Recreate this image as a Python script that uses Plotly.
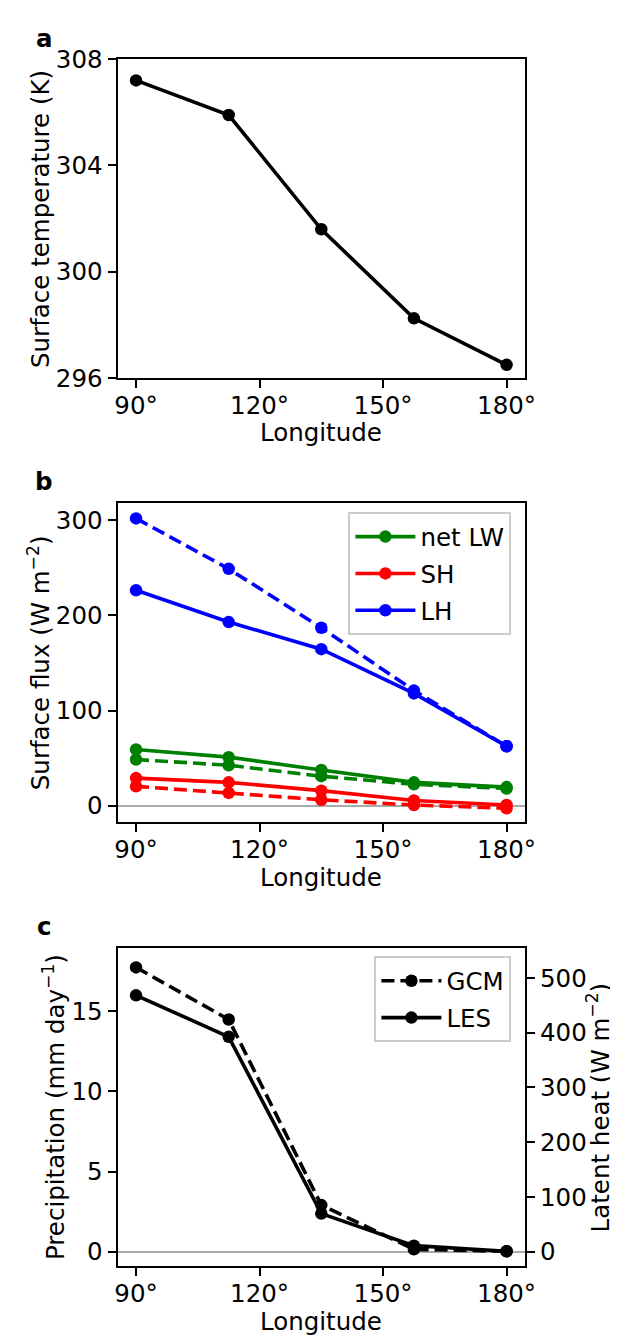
import plotly.graph_objects as go

# ---------------- data ----------------
lon = [90, 112.5, 135, 157.5, 180]
xtick_vals = [90, 120, 150, 180]
xtick_text = ["90°", "120°", "150°", "180°"]

ts = [307.2, 305.9, 301.6, 298.25, 296.5]
ts_ticks = [296, 300, 304, 308]

lw_les = [59, 51, 37.5, 24.5, 19.5]
lw_gcm = [48.5, 42.5, 31, 22.5, 18]
sh_les = [29, 24.5, 15.8, 5.5, 0.7]
sh_gcm = [20.3, 13.4, 6.2, 0.7, -2.7]
lh_les = [226.5, 193, 164.5, 118, 62.5]
lh_gcm = [302, 249, 187, 121, 62.5]
flux_ticks = [0, 100, 200, 300]

pr_gcm = [17.74, 14.49, 2.91, 0.15, 0.03]
pr_les = [16.0, 13.41, 2.38, 0.38, 0.03]
pr_ticks = [0, 5, 10, 15]
lh_ticks = [0, 100, 200, 300, 400, 500]
LV_FACTOR = 29.27   # W m-2 per mm day-1 (right axis scaling)

W, H = 618, 1341
FONT = "DejaVu Sans"
FS = 24.5
LWID = 3.6
MSZ = 12.5
DASH = "13px,6px"

def px(x):
    return x / W

def py(y):
    return 1 - y / H

xl, xr = 109, 526
panels = [(38, 364), (492, 818), (946, 1272)]

fig = go.Figure()

# panel a
fig.add_trace(go.Scatter(x=lon, y=ts, mode="lines+markers", xaxis="x", yaxis="y",
                         line=dict(color="black", width=LWID),
                         marker=dict(color="black", size=MSZ), showlegend=False))

# panel b
cols = {"net LW": "#008000", "SH": "#ff0000", "LH": "#0000ff"}
series_b = [("net LW", lw_les, lw_gcm), ("SH", sh_les, sh_gcm), ("LH", lh_les, lh_gcm)]
for name, les, gcm in series_b:
    c = cols[name]
    fig.add_trace(go.Scatter(x=lon, y=gcm, mode="lines+markers", xaxis="x2", yaxis="y2",
                             line=dict(color=c, width=LWID, dash=DASH),
                             marker=dict(color=c, size=MSZ), showlegend=False))
for name, les, gcm in series_b:
    c = cols[name]
    fig.add_trace(go.Scatter(x=lon, y=les, mode="lines+markers", xaxis="x2", yaxis="y2",
                             name=name, legendgroup=name, legend="legend",
                             line=dict(color=c, width=LWID),
                             marker=dict(color=c, size=MSZ)))

# panel c
fig.add_trace(go.Scatter(x=lon, y=pr_gcm, mode="lines+markers", xaxis="x3", yaxis="y3",
                         name="GCM", legendgroup="GCM", legend="legend2",
                         line=dict(color="black", width=LWID, dash=DASH),
                         marker=dict(color="black", size=MSZ)))
fig.add_trace(go.Scatter(x=lon, y=pr_les, mode="lines+markers", xaxis="x3", yaxis="y3",
                         name="LES", legendgroup="LES", legend="legend2",
                         line=dict(color="black", width=LWID),
                         marker=dict(color="black", size=MSZ)))
# invisible companion on the right (latent heat) axis so that it is drawn
fig.add_trace(go.Scatter(x=lon, y=[p * LV_FACTOR for p in pr_les], mode="lines",
                         xaxis="x3", yaxis="y4", opacity=0, hoverinfo="skip",
                         line=dict(width=0), showlegend=False))

axis_common = dict(showline=True, linecolor="black", linewidth=2, mirror=True,
                   ticks="outside", ticklen=8, tickwidth=2, tickcolor="black",
                   showgrid=False, zeroline=False,
                   tickfont=dict(family=FONT, size=FS, color="black"))

xdom = [px(xl), px(xr)]
lay = dict(width=W, height=H, margin=dict(l=0, r=0, t=0, b=0),
           paper_bgcolor="white", plot_bgcolor="white",
           font=dict(family=FONT, size=FS, color="black"))

yranges = [[296, 308], [-17.5, 317.8], [-0.92, 18.98]]
ytv = [ts_ticks, flux_ticks, pr_ticks]
for i, (top, bot) in enumerate(panels):
    s = "" if i == 0 else str(i + 1)
    ydom = [py(bot), py(top)]
    lay["xaxis" + s] = dict(axis_common, domain=xdom, anchor="y" + s,
                            range=[85.5, 184.5], tickvals=xtick_vals,
                            ticktext=xtick_text, ticklabelstandoff=-4)
    yax = dict(axis_common, domain=ydom, anchor="x" + s,
               range=yranges[i], tickvals=ytv[i])
    if i > 0:
        yax.update(zeroline=True, zerolinecolor="#aaaaaa", zerolinewidth=2)
    lay["yaxis" + s] = yax

lay["yaxis4"] = dict(axis_common, overlaying="y3", side="right", anchor="x3",
                     range=[-0.92 * LV_FACTOR, 18.98 * LV_FACTOR], tickvals=lh_ticks,
                     mirror=False)

leg_common = dict(xanchor="right", yanchor="top",
                  bgcolor="white", bordercolor="#cccccc", borderwidth=2,
                  font=dict(family=FONT, size=FS, color="black"),
                  itemwidth=60, tracegroupgap=2)
lay["legend"] = dict(leg_common, x=px(512), y=py(501))
lay["legend2"] = dict(leg_common, x=px(512), y=py(955))

fig.update_layout(**lay)

ann = []
def add_text(text, x, y, angle=0, bold=False):
    ann.append(dict(text=("<b>%s</b>" % text) if bold else text,
                    x=px(x), y=py(y), xref="paper", yref="paper",
                    xanchor="center", yanchor="middle", textangle=angle,
                    showarrow=False, font=dict(family=FONT, size=FS, color="black")))

add_text("a", 34, 17, bold=True)
add_text("b", 34, 470, bold=True)
add_text("c", 34, 924, bold=True)
for (top, bot) in panels:
    add_text("Longitude", (xl + xr) / 2, bot + 56)
add_text("Surface temperature (K)", 30, (38 + 364) / 2, angle=-90)
add_text("Surface flux (W m<sup>−2</sup>)", 28, (492 + 818) / 2, angle=-90)
add_text("Precipitation (mm day<sup>−1</sup>)", 44, (946 + 1272) / 2, angle=-90)
add_text("Latent heat (W m<sup>−2</sup>)", 601, (946 + 1272) / 2, angle=-90)
fig.update_layout(annotations=ann)

fig.write_html("out.html")
